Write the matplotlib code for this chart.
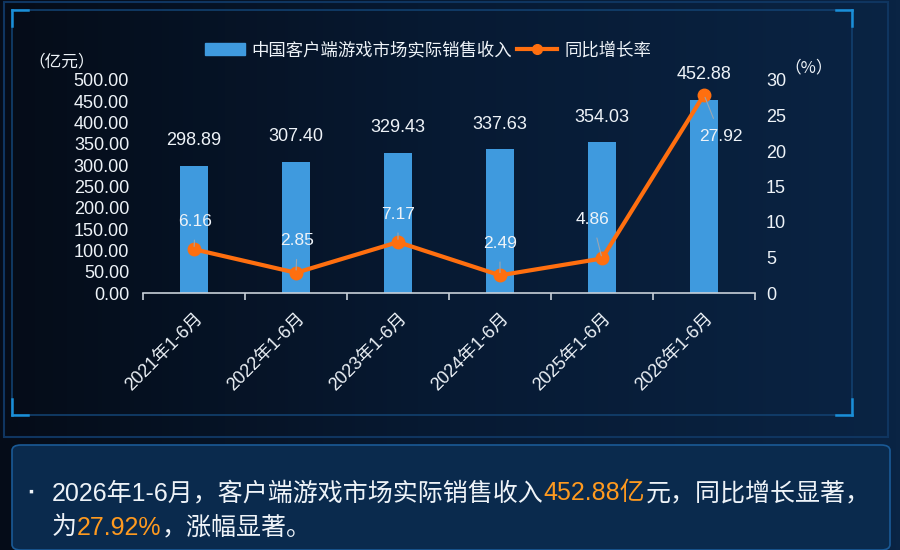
import matplotlib.pyplot as plt
import matplotlib.patches as mpatches
from matplotlib.colors import LinearSegmentedColormap
from matplotlib.lines import Line2D
import numpy as np

plt.rcParams['font.family'] = ['Liberation Sans', 'Noto Sans CJK SC', 'DejaVu Sans']

# data
periods = ['2021年1-6月', '2022年1-6月', '2023年1-6月', '2024年1-6月', '2025年1-6月', '2026年1-6月']
revenue = [298.89, 307.40, 329.43, 337.63, 354.03, 452.88]   # 亿元
growth = [6.16, 2.85, 7.17, 2.49, 4.86, 27.92]               # %
left_ticks = [0, 50, 100, 150, 200, 250, 300, 350, 400, 450, 500]
right_ticks = [0, 5, 10, 15, 20, 25, 30]

# label offsets (points) for the growth labels
growth_offsets = [(1, 20), (1, 23), (0, 20), (0, 23), (-7, 28), (12, -30)]

BAR_COLOR = '#3f9ade'
LINE_COLOR = '#ff6f0f'
TEXT_COLOR = '#eef3f8'
ORANGE = '#ff9a1f'
BG_COLOR = '#061427'
CJK = ['Noto Sans CJK SC', 'DejaVu Sans']

fig = plt.figure(figsize=(9, 5.5), dpi=100, facecolor=BG_COLOR)

# background gradient
bg = fig.add_axes([0, 0, 1, 1], zorder=-10)
grad = np.linspace(0, 1, 256)[None, :]
bg.imshow(grad, aspect='auto', extent=[0, 1, 0, 1],
          cmap=LinearSegmentedColormap.from_list('bg', ['#050c18', '#071a33', '#0a2444']))
bg.set_xlim(0, 1)
bg.set_ylim(0, 1)
bg.axis('off')


def px(x, y):
    return x / 900, 1 - y / 550


# panel frames
x0, y0 = px(12, 415)
x1, y1 = px(852, 10)
bg.add_patch(mpatches.Rectangle((x0, y0), x1 - x0, y1 - y0, fill=False,
                                edgecolor='#12406e', lw=1.2))
for cx, cy, dx, dy in [(12, 10, 1, 1), (852, 10, -1, 1), (12, 415, 1, -1), (852, 415, -1, -1)]:
    ax_, ay_ = px(cx, cy)
    bg.plot([ax_, ax_ + dx * 16 / 900], [ay_, ay_], color='#1a8fd8', lw=1.8)
    bg.plot([ax_, ax_], [ay_, ay_ - dy * 16 / 550], color='#1a8fd8', lw=1.8)
ox0, oy0 = px(4, 437)
ox1, oy1 = px(888, 2)
bg.add_patch(mpatches.Rectangle((ox0, oy0), ox1 - ox0, oy1 - oy0, fill=False,
                                edgecolor='#0f3560', lw=1.5))
tx0, ty0 = px(12, 550)
tx1, ty1 = px(890, 445)
bg.add_patch(mpatches.FancyBboxPatch((tx0, ty0), tx1 - tx0, ty1 - ty0,
                                     boxstyle='round,pad=0,rounding_size=0.01',
                                     facecolor='#0a2a4d', edgecolor='#1a5a96', lw=1.2))

# main chart
ax = fig.add_axes([143 / 900, 1 - 293 / 550, 612 / 900, 213 / 550])
ax.set_facecolor('none')
x = np.arange(len(periods))
ax.bar(x, revenue, width=0.27, color=BAR_COLOR, zorder=2)
ax.set_xlim(-0.5, len(periods) - 0.5)
ax.set_ylim(0, 500)
ax.set_yticks(left_ticks)
ax.set_yticklabels([f'{v:.2f}' for v in left_ticks])
ax.set_xticks(x)
ax.set_xticklabels(periods, rotation=45, ha='right', rotation_mode='anchor')
ax.set_xticks(np.arange(len(periods) + 1) - 0.5, minor=True)
ax.tick_params(axis='x', which='major', length=0, pad=12, colors=TEXT_COLOR, labelsize=13)
ax.tick_params(axis='x', which='minor', length=5, color='#c8d0d8', width=1.2, direction='out')
ax.tick_params(axis='y', length=0, pad=10, colors=TEXT_COLOR, labelsize=13)
for s in ['top', 'right', 'left']:
    ax.spines[s].set_visible(False)
ax.spines['bottom'].set_color('#c8d0d8')
ax.spines['bottom'].set_linewidth(1.2)

for xi, v in zip(x, revenue):
    ax.annotate(f'{v:.2f}', (xi, v), xytext=(0, 12), textcoords='offset points',
                ha='center', va='bottom', color=TEXT_COLOR, fontsize=13)

ax2 = ax.twinx()
ax2.set_ylim(0, 30)
ax2.set_yticks(right_ticks)
ax2.tick_params(axis='y', length=0, pad=8, colors=TEXT_COLOR, labelsize=13)
for s in ['top', 'right', 'left', 'bottom']:
    ax2.spines[s].set_visible(False)
ax2.plot(x, growth, color=LINE_COLOR, lw=3, marker='o', markersize=9, zorder=5)
for xi, v, off in zip(x, growth, growth_offsets):
    ax2.annotate(f'{v:.2f}', (xi, v), xytext=off, textcoords='offset points',
                 ha='center', va='center', color=TEXT_COLOR, fontsize=12.5,
                 arrowprops=dict(arrowstyle='-', color='#9aa6b2', lw=0.8,
                                 shrinkA=6, shrinkB=2), zorder=6)

# unit labels
fig.text(28 / 900, 1 - 62 / 550, '（亿元）', color=TEXT_COLOR, fontsize=12, va='center', family=CJK)
fig.text(784 / 900, 1 - 68 / 550, '（%）', color=TEXT_COLOR, fontsize=12, va='center', family=CJK)

# legend
handles = [mpatches.Patch(color=BAR_COLOR, label='中国客户端游戏市场实际销售收入'),
           Line2D([0], [0], color=LINE_COLOR, lw=3, marker='o', markersize=7, label='同比增长率')]
fig.legend(handles=handles, loc='center', bbox_to_anchor=(428 / 900, 1 - 50 / 550), ncol=2,
           frameon=False, fontsize=12.5, labelcolor=TEXT_COLOR, handlelength=2.3,
           handletextpad=0.4, columnspacing=0.3)


# summary text with highlighted numbers, pieces chained one after another
def text_chain(parts, x, y, size=18):
    prev = fig.text(x, y, parts[0][0], color=parts[0][1], fontsize=size, va='baseline')
    for s, c in parts[1:]:
        prev = fig.add_artist(plt.Annotation(s, xy=(1, 0), xycoords=prev, color=c,
                                             fontsize=size, va='bottom', ha='left',
                                             annotation_clip=False))
    return prev


fig.text(28 / 900, 1 - 492 / 550, '▪', color=TEXT_COLOR, fontsize=10, va='center')
text_chain([('2026年1-6月，客户端游戏市场实际销售收入', TEXT_COLOR),
            ('452.88亿', ORANGE),
            ('元，同比增长显著，', TEXT_COLOR)], 52 / 900, 1 - 500 / 550)
text_chain([('为', TEXT_COLOR), ('27.92%', ORANGE), ('，涨幅显著。', TEXT_COLOR)],
           52 / 900, 1 - 535 / 550)

fig.savefig('out.png', dpi=100, facecolor=BG_COLOR)
